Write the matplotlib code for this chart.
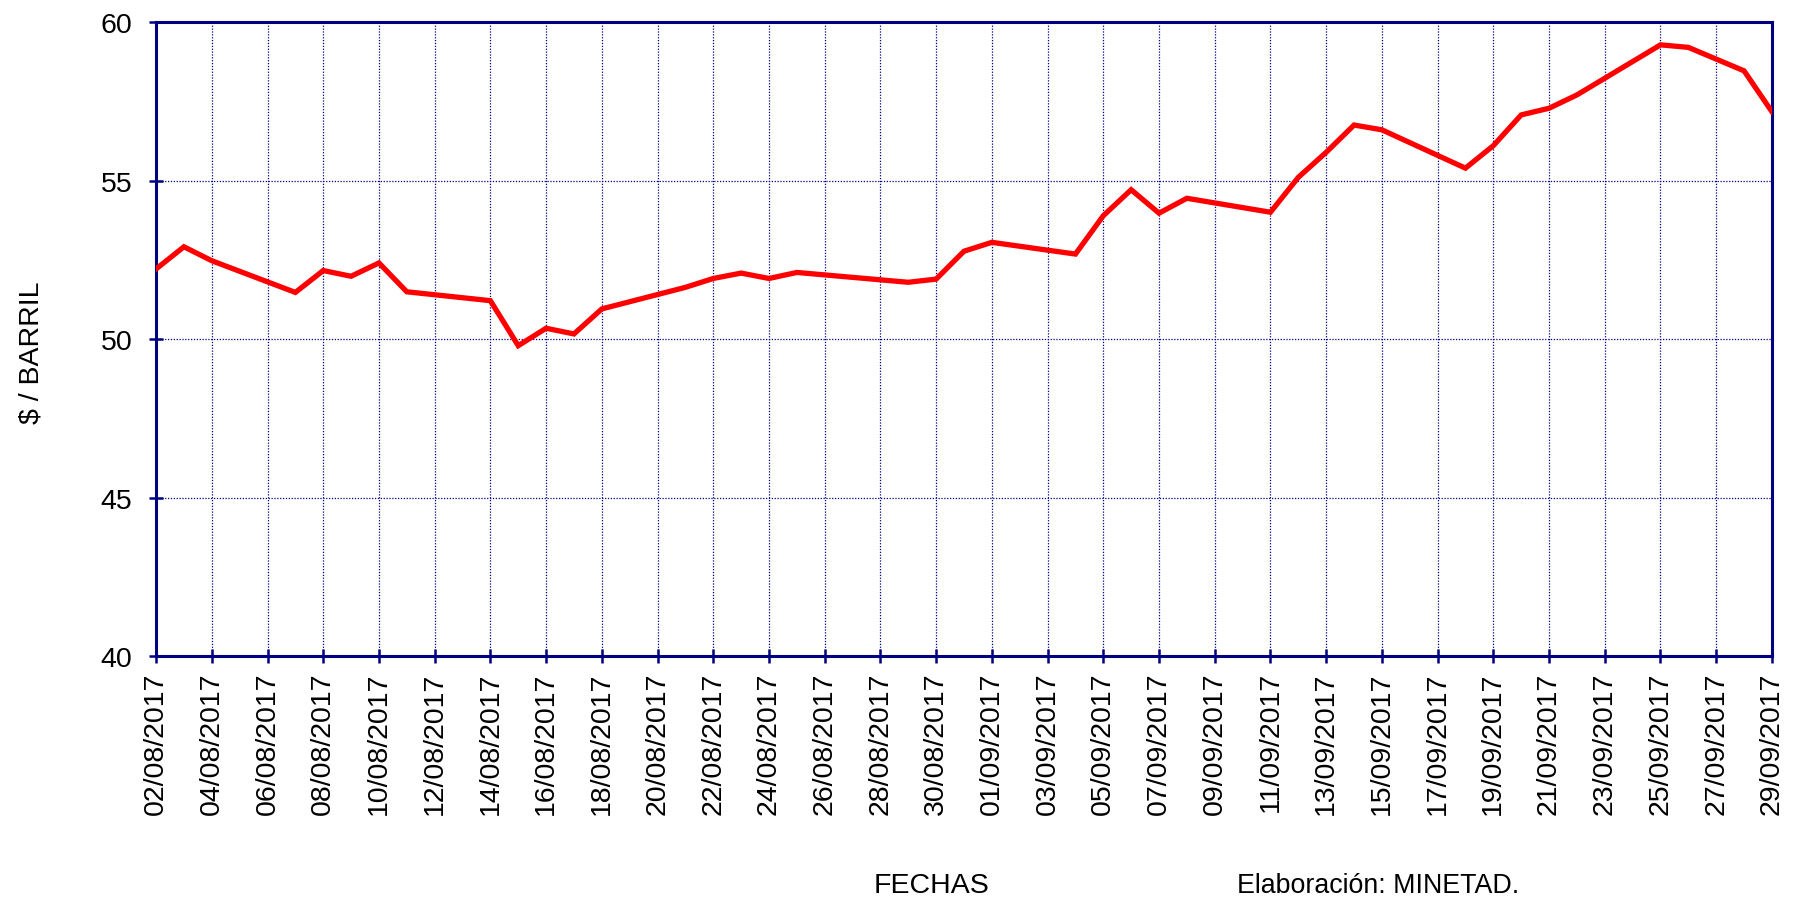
import pandas as pd
import matplotlib
matplotlib.use("Agg")
import matplotlib.pyplot as plt
import matplotlib.dates as mdates

plt.rcParams['font.family'] = ['Liberation Sans', 'DejaVu Sans']

# Datos (días hábiles)
fechas = [
    "2017-08-02", "2017-08-03", "2017-08-04", "2017-08-07", "2017-08-08",
    "2017-08-09", "2017-08-10", "2017-08-11", "2017-08-14", "2017-08-15",
    "2017-08-16", "2017-08-17", "2017-08-18", "2017-08-21", "2017-08-22",
    "2017-08-23", "2017-08-24", "2017-08-25", "2017-08-29", "2017-08-30",
    "2017-08-31", "2017-09-01", "2017-09-04", "2017-09-05", "2017-09-06",
    "2017-09-07", "2017-09-08", "2017-09-11", "2017-09-12", "2017-09-13",
    "2017-09-14", "2017-09-15", "2017-09-18", "2017-09-19", "2017-09-20",
    "2017-09-21", "2017-09-22", "2017-09-25", "2017-09-26", "2017-09-27",
    "2017-09-28", "2017-09-29",
]
precios = [
    52.21, 52.91, 52.47, 51.47, 52.16,
    51.98, 52.40, 51.49, 51.21, 49.79,
    50.34, 50.16, 50.95, 51.63, 51.91,
    52.08, 51.91, 52.10, 51.79, 51.89,
    52.77, 53.05, 52.68, 53.89, 54.71,
    53.97, 54.44, 54.00, 55.10, 55.89,
    56.75, 56.60, 55.39, 56.10, 57.07,
    57.28, 57.70, 59.28, 59.20, 58.83,
    58.46, 57.17,
]
y_ticks = [40, 45, 50, 55, 60]

x = pd.to_datetime(fechas)
x_ticks = pd.date_range("2017-08-02", "2017-09-29", freq="2D")

navy = "#000080"

fig = plt.figure(figsize=(17.98, 9.03), dpi=100)
ax = fig.add_axes([0.0868, 0.2724, 0.8987, 0.7021])

ax.plot(x, precios, color="#ff0000", linewidth=3.8, solid_joinstyle="miter", zorder=3)

ax.set_xlim(x_ticks[0], x_ticks[-1])
ax.set_ylim(40, 60)
ax.set_yticks(y_ticks)
ax.set_xticks(x_ticks)
ax.xaxis.set_major_formatter(mdates.DateFormatter("%d/%m/%Y"))
plt.setp(ax.get_xticklabels(), rotation=90)

ax.grid(True, color=navy, linestyle=(0, (1, 1.3)), linewidth=0.9)
for s in ax.spines.values():
    s.set_color(navy)
    s.set_linewidth(2.2)
ax.tick_params(axis="both", direction="inout", length=10, width=1.8, color=navy,
               labelsize=20.5)
ax.tick_params(axis="x", pad=6)
ax.tick_params(axis="y", pad=12)

ax.set_ylabel("$ / BARRIL", fontsize=20.5)
ax.yaxis.set_label_coords(-0.069, 0.48)

fig.text(0.518, 0.019, "FECHAS", fontsize=20.5, ha="center", va="center")
fig.text(0.688, 0.019, "Elaboración: MINETAD.", fontsize=19.3, ha="left", va="center")

fig.savefig("out.png", dpi=100)
